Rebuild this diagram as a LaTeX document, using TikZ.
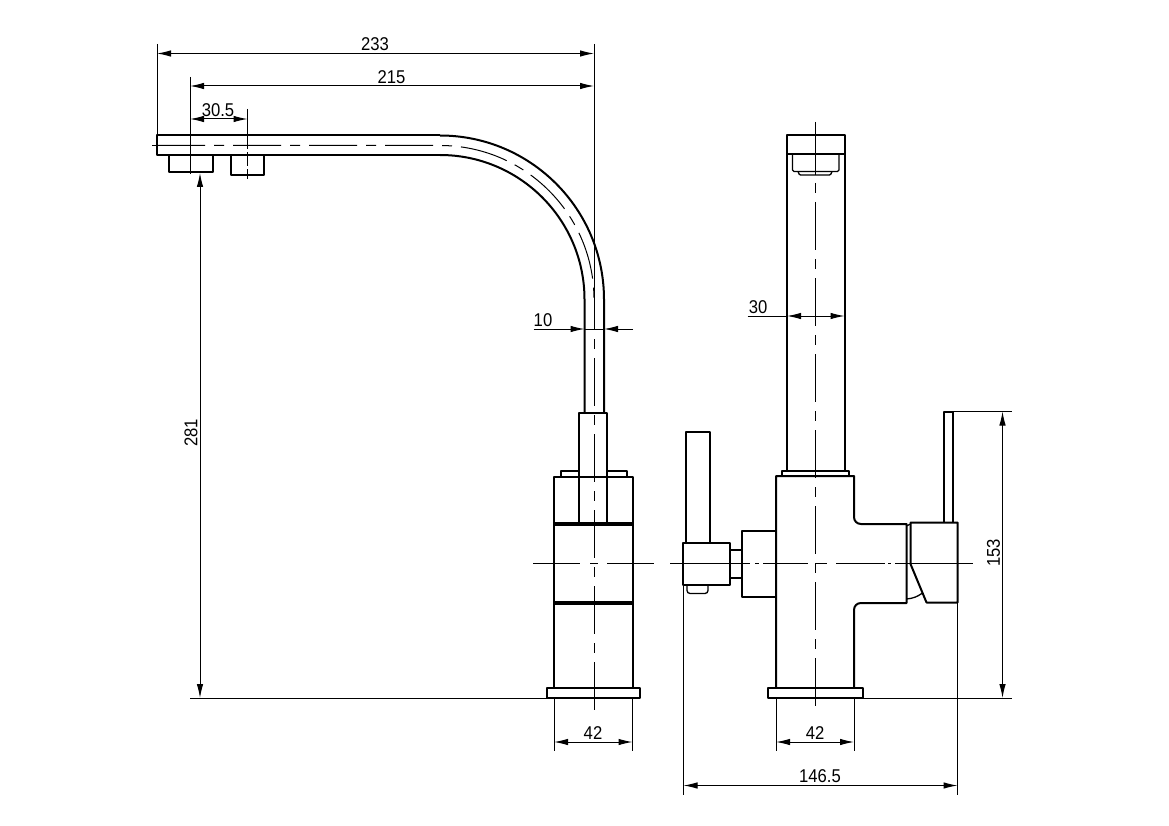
\documentclass[tikz,border=0pt]{standalone}
\usepackage{fontspec}
\setmainfont{Liberation Sans}[FakeStretch=0.9]
\usetikzlibrary{arrows.meta}

\begin{document}
\begin{tikzpicture}[
  x=1pt, y=-1pt,
  body/.style = {draw, line width=2pt, line join=round},
  heavy/.style = {draw, line width=3.2pt},
  fine/.style = {draw, line width=1.3pt},
  slim/.style = {draw, line width=1pt},
  centre/.style = {draw, line width=1pt, dash pattern=on 48pt off 9pt on 10pt off 9pt},
  dimline/.style = {draw, line width=1pt, {Latex[length=14pt,width=6.5pt]}-{Latex[length=14pt,width=6.5pt]}},
  tip/.style = {draw, line width=1pt, -{Latex[length=14pt,width=6.5pt]}},
  dimtext/.style = {font=\fontsize{18.5}{18.5}\selectfont, inner sep=0pt}
]
  \useasboundingbox (0,0) rectangle (1169,826);
  \fill[white] (0,0) rectangle (1169,826);

  % Spout, side view
  \path[body] (440,155) -- (157,155) -- (157,135.5) -- (440,135.5);
  \path[body] (440,135.5) arc[start angle=-90, end angle=0, radius=164] -- (604,412);
  \path[body] (440,155) arc[start angle=-90, end angle=0, radius=144.5] -- (584.5,412);
  \path[body] (168.5,155) -- (168.5,172) -- (213,172) -- (213,155);
  \path[body] (231,155) -- (231,175) -- (264,175) -- (264,155);

  % Stand, side view
  \path[body] (561,476.5) -- (561,471) -- (579,471);
  \path[body] (607,471) -- (627,471) -- (627,476.5);
  \path[body] (554,687.5) -- (554,476.5) -- (633,476.5) -- (633,687.5);
  \path[body] (579,524) -- (579,412.5) -- (607,412.5) -- (607,524);
  \path[heavy] (554,524) -- (633,524);
  \path[heavy] (554,603) -- (633,603);
  \path[body] (547,687.5) rectangle (640,698);

  % Centre lines, side view
  \path[slim] (152,145.5) -- (157,145.5);
  \path[centre] (157,145.5) -- (440,145.5) arc[start angle=-90, end angle=0, radius=154];
  \path[centre, dash phase=18pt] (594,300) -- (594,710);
  \foreach \from/\to in {533/580, 590/598, 607/654}
    \path[slim] (\from,563) -- (\to,563);
  \path[slim] (190,77) -- (190,174);
  \path[slim] (247.5,109) -- (247.5,135.5);
  \path[slim, dash pattern=on 14pt off 3pt] (247.5,135.5) -- (247.5,179);
  \path[slim] (157,44) -- (157,135.5);
  \path[slim] (594,44) -- (594,300);

  % Spout, front view
  \path[body] (787,471) -- (787,135.5) -- (844.5,135.5) -- (844.5,471);
  \path[body] (787,154.5) -- (844.5,154.5);
  \path[fine, rounded corners=1.5pt] (792.5,154.5) -- (792.5,171.5) -- (839,171.5) -- (839,154.5);
  \path[fine, rounded corners=1pt] (798,171.5) -- (799.5,175) -- (830.5,175) -- (832,171.5);
  \path[body] (782,476) -- (782,471) -- (848.5,471) -- (848.5,476);

  % Mixer body, front view
  \path[body] (776,687.5) -- (776,476) -- (854,476) -- (854,517)
    .. controls (854,521) and (857,524) .. (861,524) -- (906.5,524) -- (906.5,603)
    -- (861,603) .. controls (857,603) and (854,606) .. (854,610) -- (854,687.5);
  \path[body] (768,687.5) rectangle (862.5,698);

  % Left handle
  \path[body] (776,530.5) -- (742,530.5) -- (742,596.5) -- (776,596.5);
  \path[body] (730,550) -- (742,550);
  \path[body] (730,577.5) -- (742,577.5);
  \path[body] (683,542.5) rectangle (730,584.5);
  \path[body] (686,542.5) -- (686,432) -- (709.5,432) -- (709.5,542.5);
  \path[fine, rounded corners=3pt] (687,584.5) -- (687,593.5) -- (708,593.5) -- (708,584.5);

  % Right lever
  \path[body] (944,522.5) -- (944,412) -- (952.5,412) -- (952.5,522.5);
  \path[body] (910.5,564) -- (910.5,522.5) -- (957.5,522.5) -- (957.5,602.5) -- (926.5,602.5) -- cycle;
  \path[fine] (906.5,526) -- (910.5,524);
  \path[fine] (906.5,599) to[bend right=15] (922.5,593);

  % Centre lines, front view
  \path[slim] (815.5,122) -- (815.5,175);
  \path[centre, dash pattern=on 10pt off 9pt on 48pt off 9pt] (815.5,183) -- (815.5,710);
  \foreach \from/\to in {670/750, 755/759, 763/808, 815/827, 836/885, 888/891, 895/972.5}
    \path[slim] (\from,563) -- (\to,563);

  % Extension lines
  \path[slim] (190,698) -- (547,698);
  \path[slim] (554,698) -- (554,751);
  \path[slim] (632.5,698) -- (632.5,751);
  \path[slim] (776,698) -- (776,751);
  \path[slim] (854,698) -- (854,751);
  \path[slim] (683.5,584.5) -- (683.5,795);
  \path[slim] (957.5,602.5) -- (957.5,795);
  \path[slim] (952.5,411.5) -- (1012,411.5);
  \path[slim] (862.5,698) -- (1012,698);

  % Named dimension ends
  \coordinate (leftA) at (157,53.5);
  \coordinate (rightA) at (594,53.5);
  \coordinate (leftB) at (190,86);
  \coordinate (rightB) at (594,86);
  \coordinate (leftC) at (190,119);
  \coordinate (rightC) at (247.5,119);
  \coordinate (topH) at (200,173);
  \coordinate (baseH) at (200,698);
  \coordinate (leftSide) at (554,742);
  \coordinate (rightSide) at (632.5,742);
  \coordinate (leftFront) at (776,742);
  \coordinate (rightFront) at (854,742);
  \coordinate (leftAll) at (683.5,785.5);
  \coordinate (rightAll) at (957.5,785.5);
  \coordinate (topLever) at (1002.5,411.5);
  \coordinate (baseLever) at (1002.5,698);
  \coordinate (tubeLeft) at (584.5,329);
  \coordinate (tubeRight) at (604,329);
  \coordinate (spoutLeft) at (787,316);
  \coordinate (spoutRight) at (844.5,316);

  % Dimensions
  \path[dimline] (leftA) -- (rightA);
  \path[dimline] (leftB) -- (rightB);
  \path[dimline] (leftC) -- (rightC);
  \path[dimline] (topH) -- (baseH);
  \path[dimline] (leftSide) -- (rightSide);
  \path[dimline] (leftFront) -- (rightFront);
  \path[dimline] (leftAll) -- (rightAll);
  \path[dimline] (topLever) -- (baseLever);
  \path[dimline] (spoutLeft) -- (spoutRight);
  \path[slim] (747.5,316) -- (spoutLeft);

  % Tube width, arrows from outside
  \path[tip] (533.5,329) -- (tubeLeft);
  \path[tip] (633,329) -- (tubeRight);
  \path[slim] (tubeLeft) -- (tubeRight);

  % Labels
  \node[dimtext] (labelA) at (375,44) {233};
  \node[dimtext] (labelB) at (391.5,77) {215};
  \node[dimtext] (labelC) at (218,110) {30.5};
  \node[dimtext, rotate=90] (labelH) at (191,433) {281};
  \node[dimtext] (labelTube) at (543,320) {10};
  \node[dimtext] (labelSpout) at (758,307) {30};
  \node[dimtext] (labelSide) at (593,733) {42};
  \node[dimtext] (labelFront) at (815,733) {42};
  \node[dimtext] (labelAll) at (820,776) {146.5};
  \node[dimtext, rotate=90] (labelLever) at (993.5,553) {153};
\end{tikzpicture}
\end{document}
